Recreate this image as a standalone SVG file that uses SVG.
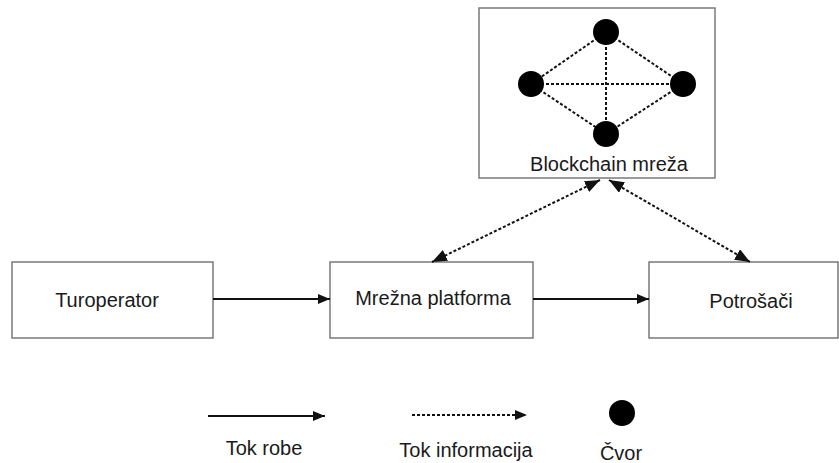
<svg xmlns="http://www.w3.org/2000/svg" width="839" height="463" viewBox="0 0 839 463">
<style>
.box{fill:#fff;stroke:#7a7a7a;stroke-width:1.5}
.t{font-family:"Liberation Sans",Arial,sans-serif;font-size:20px;fill:#1a1a1a;text-anchor:middle}
.solid{stroke:#111;stroke-width:2;fill:none}
.dot{stroke:#111;stroke-width:2;stroke-dasharray:3 2;fill:none}
.net{stroke:#111;stroke-width:2;stroke-dasharray:3 2;fill:none}
.node{fill:#000}
</style>
<defs>
<marker id="ah" viewBox="0 0 12 10" refX="12" refY="5" markerWidth="12" markerHeight="10" markerUnits="userSpaceOnUse" orient="auto-start-reverse">
<path d="M0,0 L12,5 L0,10 z" fill="#111"/>
</marker>
<marker id="ahb" viewBox="0 0 15 12" refX="15" refY="6" markerWidth="15" markerHeight="12" markerUnits="userSpaceOnUse" orient="auto-start-reverse">
<path d="M0,0 L15,6 L0,12 z" fill="#111"/>
</marker>
</defs>
<rect width="839" height="463" fill="#fff"/>
<g id="blockchain">
<rect class="box" x="479" y="8" width="236" height="170"/>
<g class="net">
<line x1="606" y1="32" x2="531" y2="84"/>
<line x1="606" y1="32" x2="683" y2="84"/>
<line x1="531" y1="84" x2="606" y2="134"/>
<line x1="683" y1="84" x2="606" y2="134"/>
<line x1="531" y1="84" x2="683" y2="84"/>
<line x1="606" y1="32" x2="606" y2="134"/>
</g>
<circle class="node" cx="606" cy="32" r="13"/>
<circle class="node" cx="531" cy="84" r="13"/>
<circle class="node" cx="683" cy="84" r="13"/>
<circle class="node" cx="606" cy="134" r="13"/>
<text class="t" x="609" y="171">Blockchain mreža</text>
</g>
<g id="turoperator">
<rect class="box" x="12" y="262" width="201" height="76"/>
<text class="t" x="107" y="307">Turoperator</text>
</g>
<g id="platforma">
<rect class="box" x="330" y="262" width="203" height="76"/>
<text class="t" x="433" y="305">Mrežna platforma</text>
</g>
<g id="potrosaci">
<rect class="box" x="649" y="262" width="189" height="76"/>
<text class="t" x="751" y="308">Potrošači</text>
</g>
<g id="connectors">
<line class="solid" x1="213" y1="299" x2="330" y2="299" marker-end="url(#ah)"/>
<line class="solid" x1="533" y1="299" x2="649" y2="299" marker-end="url(#ah)"/>
<line class="dot" x1="600" y1="180" x2="432" y2="262" marker-start="url(#ahb)" marker-end="url(#ahb)"/>
<line class="dot" x1="609" y1="180" x2="750" y2="262" marker-start="url(#ahb)" marker-end="url(#ahb)"/>
</g>
<g id="legend">
<line class="solid" x1="208" y1="416" x2="325" y2="416" marker-end="url(#ah)"/>
<text class="t" x="264" y="455">Tok robe</text>
<line class="dot" x1="412" y1="415" x2="527" y2="415" marker-end="url(#ah)"/>
<text class="t" x="466" y="457">Tok informacija</text>
<circle class="node" cx="622" cy="413" r="13"/>
<text class="t" x="621" y="460">Čvor</text>
</g>
</svg>
